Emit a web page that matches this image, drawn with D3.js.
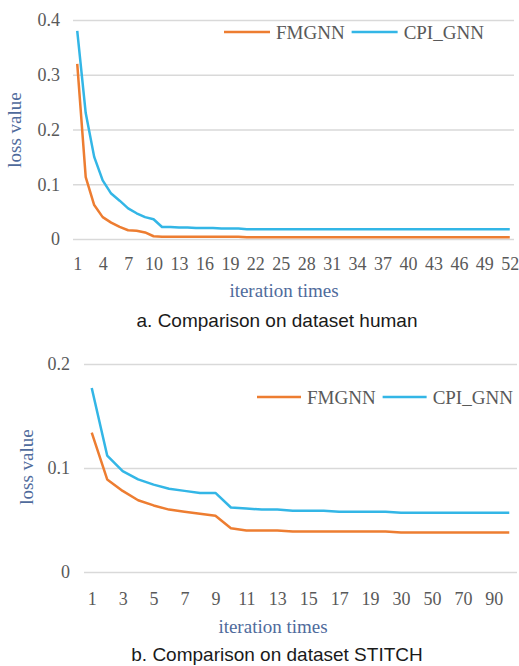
<!DOCTYPE html>
<html>
<head>
<meta charset="utf-8">
<script src="https://cdn.jsdelivr.net/npm/d3@7"></script>
<style>
  body { margin: 0; background: #fff; }
  svg { display: block; }
</style>
</head>
<body>
<svg id="chart" width="519" height="666"></svg>
<script>
// Chart a - dataset human
var human_iters = ['1','2','3','4','5','6','7','8','9','10','11','12','13','14','15','16','17','18','19','20',
  '21','22','23','24','25','26','27','28','29','30','31','32','33','34','35','36','37','38','39','40',
  '41','42','43','44','45','46','47','48','49','50','51','52']
var human_fmgnn = [0.320, 0.113, 0.062, 0.040, 0.030, 0.022, 0.016, 0.015, 0.012, 0.005,
  0.004, 0.004, 0.004, 0.004, 0.004, 0.004, 0.004, 0.004, 0.004, 0.004,
  0.003, 0.003, 0.003, 0.003, 0.003, 0.003, 0.003, 0.003, 0.003, 0.003,
  0.003, 0.003, 0.003, 0.003, 0.003, 0.003, 0.003, 0.003, 0.003, 0.003,
  0.003, 0.003, 0.003, 0.003, 0.003, 0.003, 0.003, 0.003, 0.003, 0.003,
  0.003, 0.003]
var human_cpi = [0.380, 0.230, 0.150, 0.107, 0.083, 0.070, 0.056, 0.047, 0.040, 0.036,
  0.022, 0.022, 0.021, 0.021, 0.020, 0.020, 0.020, 0.019, 0.019, 0.019,
  0.018, 0.018, 0.018, 0.018, 0.018, 0.018, 0.018, 0.018, 0.018, 0.018,
  0.018, 0.018, 0.018, 0.018, 0.018, 0.018, 0.018, 0.018, 0.018, 0.018,
  0.018, 0.018, 0.018, 0.018, 0.018, 0.018, 0.018, 0.018, 0.018, 0.018,
  0.018, 0.018]
var human_yticks = [0, 0.1, 0.2, 0.3, 0.4]

// Chart b - dataset STITCH
var stitch_iters = ['1','2','3','4','5','6','7','8','9','10','11','12','13','14','15','16','17','18','19','20',
  '30','40','50','60','70','80','90','100']
var stitch_fmgnn = [0.134, 0.089, 0.078, 0.069, 0.064, 0.060, 0.058, 0.056, 0.054, 0.042,
  0.040, 0.040, 0.040, 0.039, 0.039, 0.039, 0.039, 0.039, 0.039, 0.039,
  0.038, 0.038, 0.038, 0.038, 0.038, 0.038, 0.038, 0.038]
var stitch_cpi = [0.177, 0.112, 0.097, 0.089, 0.084, 0.080, 0.078, 0.076, 0.076, 0.062,
  0.061, 0.060, 0.060, 0.059, 0.059, 0.059, 0.058, 0.058, 0.058, 0.058,
  0.057, 0.057, 0.057, 0.057, 0.057, 0.057, 0.057, 0.057]
var stitch_yticks = [0, 0.1, 0.2]

var series_names = ['FMGNN', 'CPI_GNN']
var series_colors = ['#ed7d31', '#33b6e6']

var serif = '"Liberation Serif", "Times New Roman", serif'
var sans = '"Liberation Sans", Arial, sans-serif'
var tick_color = '#595959'
var title_color = '#4f6b9c'

var svg = d3.select('#chart')

draw_chart({
  iters: human_iters, series: [human_fmgnn, human_cpi], yticks: human_yticks,
  ymax: 0.4, label_every: 3,
  left: 73, right: 514, top: 20, bottom: 239,
  tick_pad: 13, xlabel_y: 270,
  ytitle_x: 21, ytitle_y: 130, xtitle_x: 284, xtitle_y: 297,
  legend_x: 224, legend_y: 32, legend_line: 46,
  caption: 'a. Comparison on dataset human', caption_x: 277, caption_y: 327
})

draw_chart({
  iters: stitch_iters, series: [stitch_fmgnn, stitch_cpi], yticks: stitch_yticks,
  ymax: 0.2, label_every: 2,
  left: 84, right: 517, top: 364, bottom: 572,
  tick_pad: 14, xlabel_y: 605,
  ytitle_x: 33, ytitle_y: 467, xtitle_x: 273, xtitle_y: 633,
  legend_x: 257, legend_y: 397, legend_line: 44,
  caption: 'b. Comparison on dataset STITCH', caption_x: 277, caption_y: 661
})

function draw_chart(cfg) {
  var g = svg.append('g')

  var x = d3.scalePoint()
    .domain(cfg.iters)
    .range([cfg.left, cfg.right])
    .padding(0.5)

  var y = d3.scaleLinear()
    .domain([0, cfg.ymax])
    .range([cfg.bottom, cfg.top])

  // Gridlines + y tick labels
  var y_axis = g.append('g')
    .attr('transform', 'translate(' + cfg.left + ',0)')
    .call(d3.axisLeft(y)
      .tickValues(cfg.yticks)
      .tickSize(-(cfg.right - cfg.left))
      .tickPadding(cfg.tick_pad)
      .tickFormat(d => d === 0 ? '0' : d3.format('.1f')(d)))
  y_axis.attr('font-family', null)
  y_axis.select('.domain').remove()
  y_axis.selectAll('line')
    .attr('stroke', '#d9d9d9')
    .attr('stroke-width', 1.3)
  y_axis.selectAll('text')
    .attr('fill', tick_color)
    .style('font-family', serif)
    .style('font-size', '18px')

  // x tick labels
  var x_axis = g.append('g')
    .attr('transform', 'translate(0,' + cfg.bottom + ')')
    .call(d3.axisBottom(x)
      .tickValues(cfg.iters.filter((d, i) => i % cfg.label_every == 0))
      .tickSize(0)
      .tickPadding(0))
  x_axis.attr('font-family', null)
  x_axis.select('.domain').remove()
  x_axis.selectAll('text')
    .attr('y', cfg.xlabel_y - cfg.bottom)
    .attr('dy', null)
    .attr('fill', tick_color)
    .style('font-family', serif)
    .style('font-size', '18px')

  // Lines
  var line = d3.line()
    .x((d, i) => x(cfg.iters[i]))
    .y(d => y(d))

  cfg.series.forEach((vals, s) => {
    g.append('path')
      .datum(vals)
      .attr('d', line)
      .attr('fill', 'none')
      .attr('stroke', series_colors[s])
      .attr('stroke-width', 2.5)
      .attr('stroke-linejoin', 'round')
  })

  // Legend - each entry starts right after the previous text
  var lx = cfg.legend_x
  series_names.forEach((name, s) => {
    g.append('line')
      .attr('x1', lx)
      .attr('x2', lx + cfg.legend_line)
      .attr('y1', cfg.legend_y)
      .attr('y2', cfg.legend_y)
      .attr('stroke', series_colors[s])
      .attr('stroke-width', 2.5)
    var t = g.append('text')
      .text(name)
      .attr('x', lx + cfg.legend_line + 6)
      .attr('y', cfg.legend_y + 6.5)
      .attr('fill', tick_color)
      .style('font-family', serif)
      .style('font-size', '19px')
    lx = lx + cfg.legend_line + 6 + t.node().getComputedTextLength() + 7
  })

  // Axis titles
  g.append('text')
    .text('loss value')
    .attr('transform', 'translate(' + cfg.ytitle_x + ',' + cfg.ytitle_y + ') rotate(-90)')
    .attr('text-anchor', 'middle')
    .attr('fill', title_color)
    .style('font-family', serif)
    .style('font-size', '19px')

  g.append('text')
    .text('iteration times')
    .attr('x', cfg.xtitle_x)
    .attr('y', cfg.xtitle_y)
    .attr('text-anchor', 'middle')
    .attr('fill', title_color)
    .style('font-family', serif)
    .style('font-size', '19px')

  // Caption
  g.append('text')
    .text(cfg.caption)
    .attr('x', cfg.caption_x)
    .attr('y', cfg.caption_y)
    .attr('text-anchor', 'middle')
    .attr('fill', '#1a1a1a')
    .style('font-family', sans)
    .style('font-size', '19px')
}
</script>
</body>
</html>
